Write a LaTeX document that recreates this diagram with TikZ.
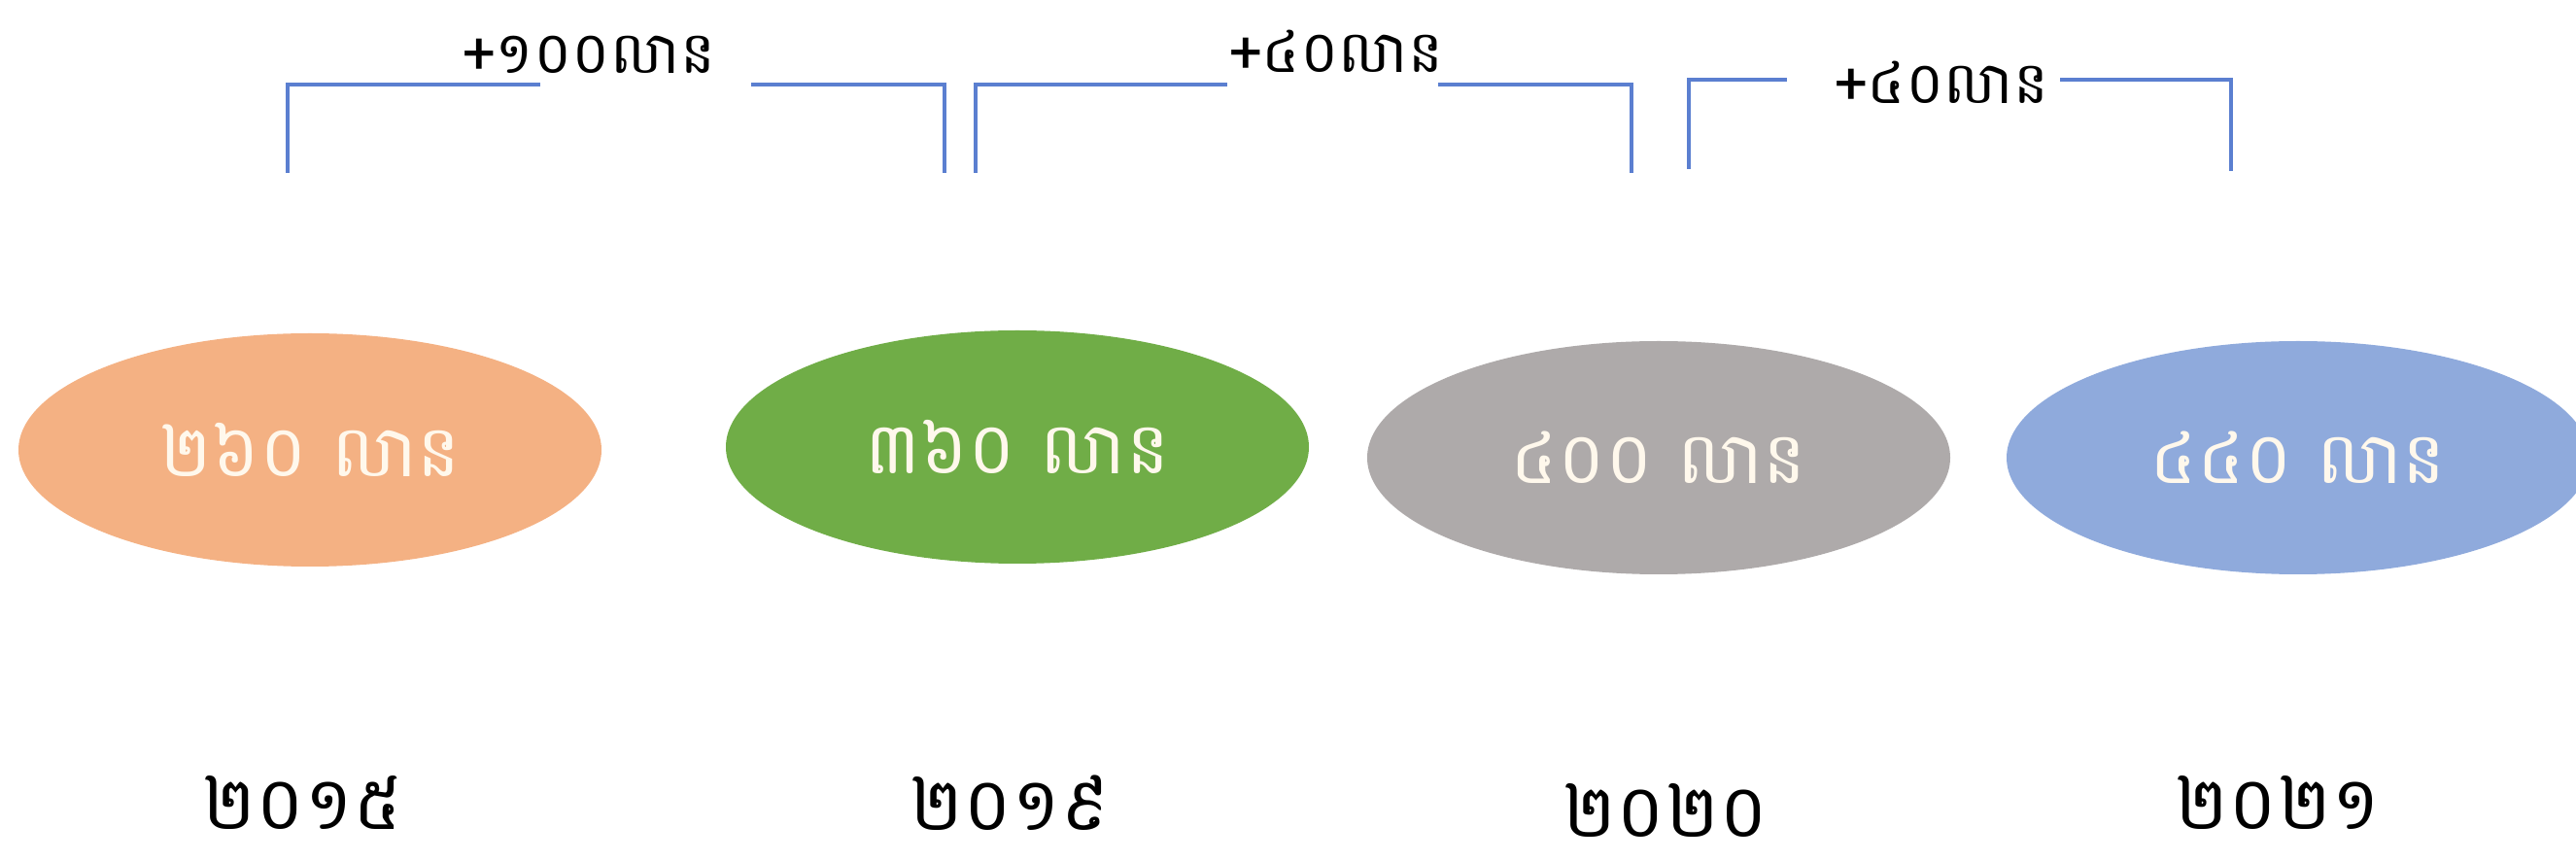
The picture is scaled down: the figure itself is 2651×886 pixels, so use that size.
\documentclass[tikz,border=0pt]{standalone}
\usepackage{fontspec}
\newfontfamily\khmer[Script=Khmer]{Battambang}
\usetikzlibrary{shapes.geometric}
\definecolor{cOrange}{HTML}{F4B183}
\definecolor{cGreen}{HTML}{70AD47}
\definecolor{cGray}{HTML}{AEAAAA}
\definecolor{cBlue}{HTML}{8FAADC}
\definecolor{cLine}{HTML}{5B7FD0}
\definecolor{cText}{HTML}{FFF8EC}
\tikzset{
  x=0.5pt, y=-0.5pt,
  bubble/.style={ellipse, minimum width=300pt, minimum height=120pt, inner sep=0pt, draw=none, text=cText, font=\khmer\fontsize{37}{42}\selectfont},
  yearlbl/.style={inner sep=0pt, text=black, font=\khmer\fontsize{38}{44}\selectfont},
  gainlbl/.style={inner sep=0pt, text=black, font=\khmer\fontsize{30}{36}\selectfont},
  bracketline/.style={draw=cLine, line width=1.8pt},
}
\begin{document}
\begin{tikzpicture}
\useasboundingbox (0,0) rectangle (2651,886);
% ellipses
\node[bubble, fill=cOrange] (e1) at (319,463) {២៦០ លាន};
\node[bubble, fill=cGreen]  (e2) at (1047,460) {៣៦០ លាន};
\node[bubble, fill=cGray]   (e3) at (1707,471) {៤០០ លាន};
\node[bubble, fill=cBlue]   (e4) at (2365,471) {៤៤០ លាន};
% years
\node[yearlbl] (y1) at (311,826) {២០១៥};
\node[yearlbl] (y2) at (1039,826) {២០១៩};
\node[yearlbl] (y3) at (1714,834) {២០២០};
\node[yearlbl] (y4) at (2344,826) {២០២១};
% bracket 1
\coordinate (b1l) at (296,178);
\coordinate (b1a) at (556,87);
\coordinate (b1b) at (773,87);
\coordinate (b1r) at (972,178);
\draw[bracketline] (b1l) |- (b1a);
\draw[bracketline] (b1b) -| (b1r);
\node[gainlbl] (g1) at (606,56) {+១០០លាន};
% bracket 2
\coordinate (b2l) at (1004,178);
\coordinate (b2a) at (1263,87);
\coordinate (b2b) at (1480,87);
\coordinate (b2r) at (1679,178);
\draw[bracketline] (b2l) |- (b2a);
\draw[bracketline] (b2b) -| (b2r);
\node[gainlbl] (g2) at (1375,53) {+៤០លាន};
% bracket 3
\coordinate (b3l) at (1738,174);
\coordinate (b3a) at (1839,82);
\coordinate (b3b) at (2120,82);
\coordinate (b3r) at (2296,176);
\draw[bracketline] (b3l) |- (b3a);
\draw[bracketline] (b3b) -| (b3r);
\node[gainlbl] (g3) at (1998,85) {+៤០លាន};
\end{tikzpicture}
\end{document}
